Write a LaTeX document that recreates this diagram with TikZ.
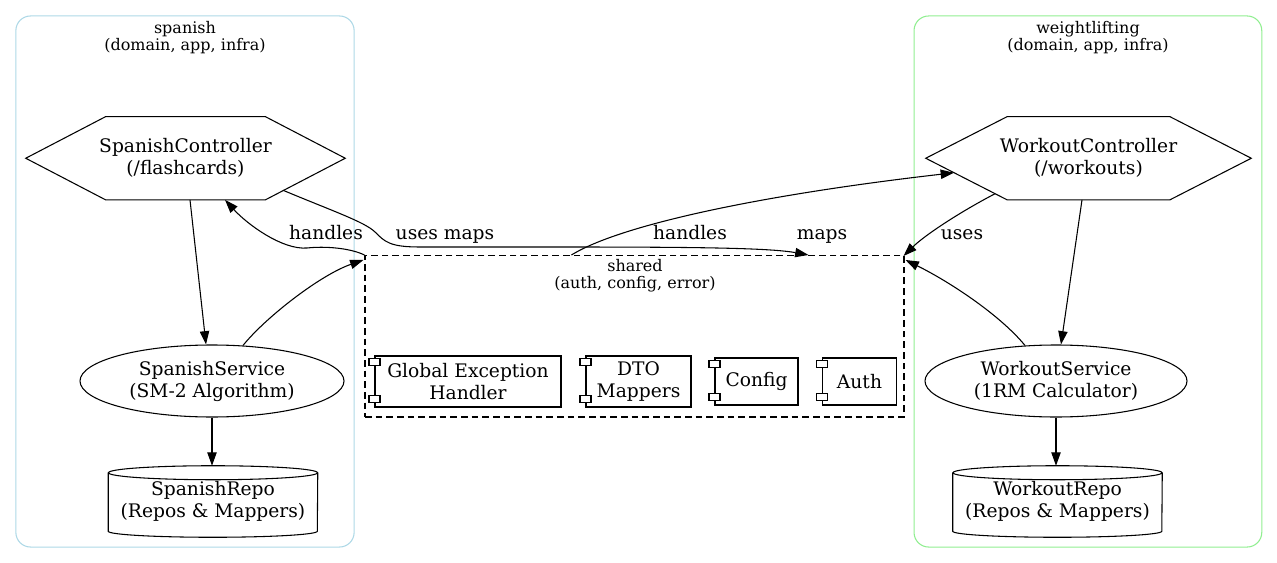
\documentclass[tikz,border=0pt]{standalone}
\usepackage{fontspec}
\setmainfont{DejaVu Serif}
\usetikzlibrary{arrows.meta,shapes.geometric,calc}
\definecolor{clblue}{HTML}{ADD8E6}
\definecolor{clgreen}{HTML}{90EE90}
\newcommand\hexof[1]{\draw[shp] (#1.west) -- ($(#1.north west)!0.25!(#1.north east)$) -- ($(#1.north west)!0.75!(#1.north east)$) -- (#1.east) -- ($(#1.south west)!0.75!(#1.south east)$) -- ($(#1.south west)!0.25!(#1.south east)$) -- cycle;}
\newcommand\cylof[1]{%
  \draw[shp] ($(#1.north west)+(0,7)$) -- ($(#1.south west)+(0,-6)$) arc[start angle=180,end angle=360,x radius=78.4pt,y radius=4.5pt] -- ($(#1.north east)+(0,7)$);
  \draw[shp] ($(#1.north)+(0,7)$) ellipse [x radius=78.4pt, y radius=5.25pt];}
\newcommand\tabsof[1]{%
  \draw[shp,fill=white] ($(#1.north west)+(-5.5,3)$) rectangle ($(#1.north west)+(5.5,10)$);
  \draw[shp,fill=white] ($(#1.south west)+(-5.5,-12)$) rectangle ($(#1.south west)+(5.5,-5)$);}
\begin{document}
\begin{tikzpicture}[x=0.75pt,y=-0.75pt,
  txt/.style={font=\fontsize{14pt}{16.5pt}\selectfont, align=center, inner sep=0pt},
  clbl/.style={font=\fontsize{12pt}{13pt}\selectfont, align=center, inner sep=0pt},
  cluster/.style={draw, line width=0.8pt, rounded corners=11pt, inner sep=0pt},
  hexbox/.style={txt, minimum height=62pt},
  ellnode/.style={txt, ellipse, draw, line width=0.8pt, minimum height=54pt},
  cylbox/.style={txt, minimum width=156.75pt, minimum height=53.25pt},
  comp/.style={txt, draw, line width=0.8pt, rectangle},
  edge/.style={draw, line width=0.8pt, -{Triangle[length=10pt,width=7pt]}},
  elbl/.style={font=\fontsize{14pt}{16.5pt}\selectfont, inner sep=0pt, anchor=base},
  shp/.style={draw, line width=0.8pt}
]
\useasboundingbox (0,0) rectangle (1277,563);

% clusters
\node[cluster, draw=clblue, minimum width=253.7pt, minimum height=398.3pt] (spanish) at (185,281.5) {};
\node[cluster, draw=clgreen, minimum width=260.8pt, minimum height=398.3pt] (weight) at (1087.9,281.5) {};
\node[draw, line width=0.8pt, dash pattern=on 5pt off 3pt, minimum width=404.25pt, minimum height=121.1pt, inner sep=0pt] (shared) at (634.5,336.25) {};

\node[clbl] (spanishlbl) at (185,37.5) {spanish\\(domain, app, infra)};
\node[clbl] (weightlbl) at (1088,37.5) {weightlifting\\(domain, app, infra)};
\node[clbl] (sharedlbl) at (635,276) {shared\\(auth, config, error)};

% spanish
\node[hexbox, minimum width=239.25pt] (sc) at (185.5,158.25) {SpanishController\\(/flashcards)};
\hexof{sc}
\node[ellnode, minimum width=198pt] (ss) at (212,381) {SpanishService\\(SM-2 Algorithm)};
\node[cylbox] (sr) at (213,501.5) {SpanishRepo\\(Repos \& Mappers)};
\cylof{sr}

% weightlifting
\node[hexbox, minimum width=243.75pt] (wc) at (1088.5,158.25) {WorkoutController\\(/workouts)};
\hexof{wc}
\node[ellnode, minimum width=196.5pt] (ws) at (1056,381) {WorkoutService\\(1RM Calculator)};
\node[cylbox] (wr) at (1057.5,501.5) {WorkoutRepo\\(Repos \& Mappers)};
\cylof{wr}

% shared components
\node[comp, minimum width=139.5pt, minimum height=38.25pt] (geh) at (468,381.5) {Global Exception\\Handler};
\node[comp, minimum width=78.75pt, minimum height=38.25pt] (dto) at (638.5,381.5) {DTO\\Mappers};
\node[comp, minimum width=62.25pt, minimum height=35.25pt] (cfg) at (756.5,381.5) {Config};
\node[comp, minimum width=55.5pt, minimum height=35.25pt] (auth) at (859.5,381.5) {Auth};
\tabsof{geh}\tabsof{dto}\tabsof{cfg}\tabsof{auth}

% edges
\draw[edge] ($(sc.south)+(4.5,0)$) -- ($(ss.north)+(-6,0)$);
\draw[edge] ($(ss.north)+(31,1)$) .. controls (265,318) and (320,275) .. ($(shared.north west)+(-1,5)$);
\draw[edge] (shared.north west) .. controls (350,248) and (325,246) .. (307,248) .. controls (282,250) and (247,224) .. ($(sc.south)+(39.5,0)$);
\draw[edge] ($(sc.center)+(97.5,32)$) .. controls (330,210) and (365,222) .. (375,232) .. controls (385,242) and (390,247) .. (420,247) -- (560,247) .. controls (700,247) and (770,248) .. ($(shared.north west)+(444,0)$);
\draw[edge] ($(shared.north west)+(207,0)$) .. controls (620,225) and (760,195) .. ($(wc.center)+(-134.5,14.5)$);
\draw[edge] ($(wc.center)+(-93.5,35.5)$) .. controls (960,212) and (925,235) .. ($(shared.north east)+(-1,1)$);
\draw[edge] ($(ws.north)+(-31,1)$) .. controls (1000,315) and (950,282) .. ($(shared.north east)+(1,5)$);
\draw[edge] ($(wc.south)+(-6.5,0)$) -- ($(ws.north)+(5,0)$);
\draw[edge] (ss.south) -- (ss.south |- sr.north);
\draw[edge] (ws.south) -- (ws.south |- wr.north);

% edge labels
\node[elbl] (lh1) at (326,239) {handles};
\node[elbl] (lum) at (445,239) {uses maps};
\node[elbl] (lh2) at (690,239) {handles};
\node[elbl] (lmp) at (822,239) {maps};
\node[elbl] (lus) at (962,239) {uses};
\end{tikzpicture}
\end{document}
